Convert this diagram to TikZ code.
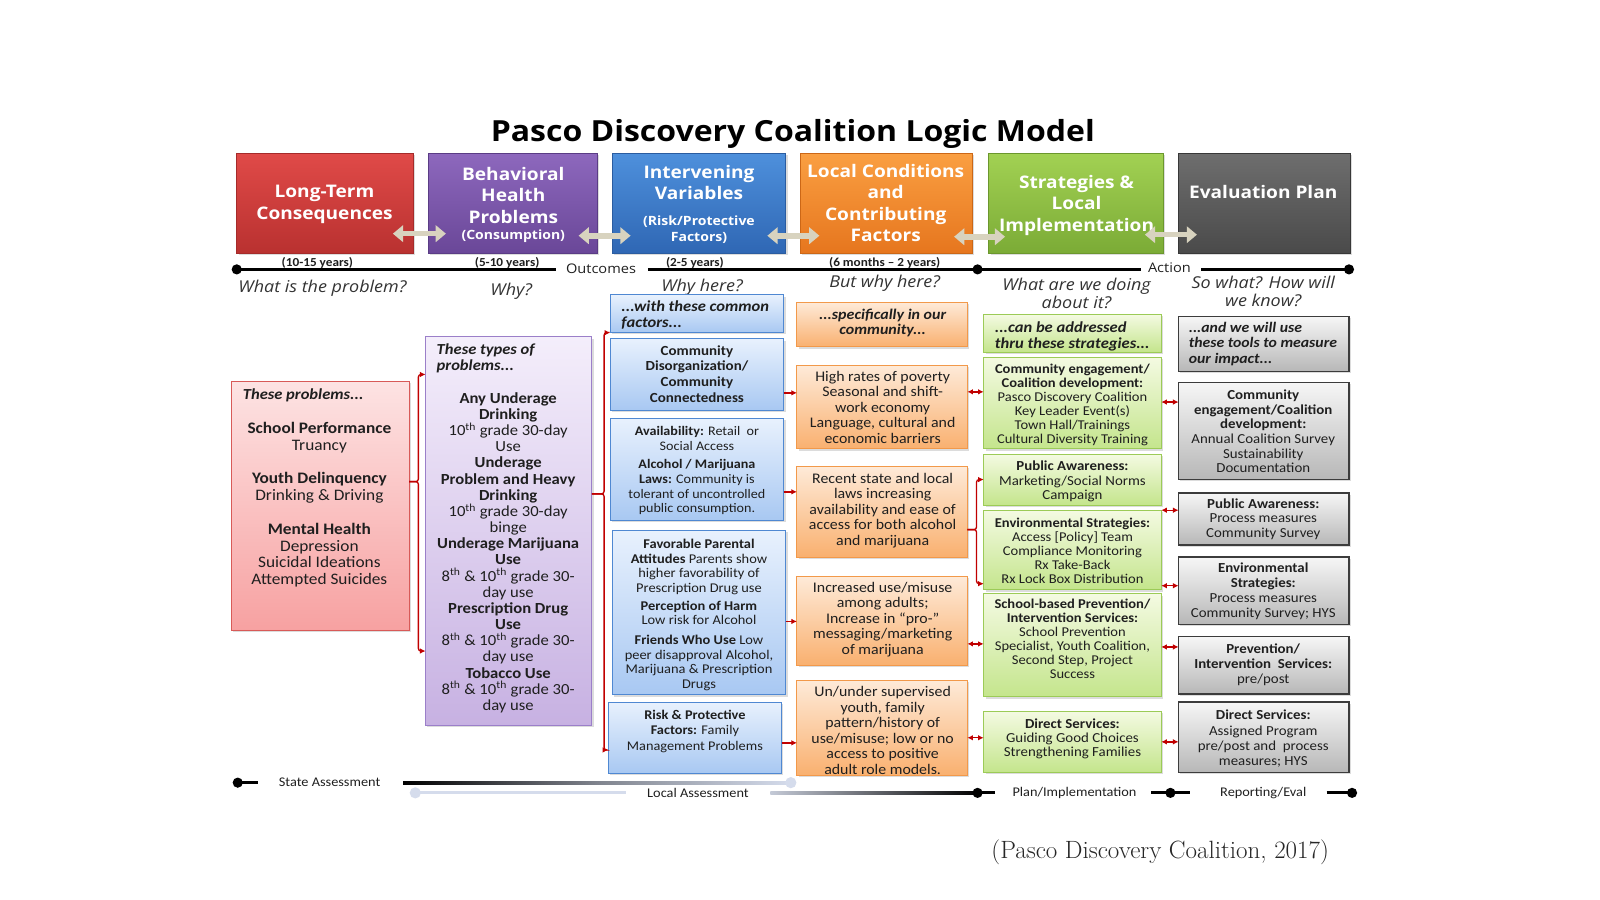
\documentclass[tikz,border=0pt]{standalone}
\usepackage{fontspec}
\setmainfont{Carlito}[FakeStretch=1.08]
\newfontfamily\hf{Open Sans}[FakeStretch=1.1]
\newfontfamily\lmr{Latin Modern Roman}
\usetikzlibrary{fit,shadows,arrows.meta}
\definecolor{rc}{HTML}{C00000}
\definecolor{bg}{HTML}{D8D3BF}
\definecolor{qc}{HTML}{333333}
\definecolor{tc}{HTML}{1F1F1F}
\definecolor{hr1}{HTML}{E04A48}\definecolor{hr2}{HTML}{B93130}\definecolor{hrb}{HTML}{A52B2A}
\definecolor{hp1}{HTML}{8D68BD}\definecolor{hp2}{HTML}{6A4798}\definecolor{hpb}{HTML}{5A3C85}
\definecolor{hb1}{HTML}{4E90DC}\definecolor{hb2}{HTML}{2F67B4}\definecolor{hbb}{HTML}{2A5CA0}
\definecolor{ho1}{HTML}{FA9F42}\definecolor{ho2}{HTML}{E6761E}\definecolor{hob}{HTML}{CC6716}
\definecolor{hg1}{HTML}{A2D153}\definecolor{hg2}{HTML}{7BAB36}\definecolor{hgb}{HTML}{6B972D}
\definecolor{hy1}{HTML}{6E6E6E}\definecolor{hy2}{HTML}{4A4A4A}\definecolor{hyb}{HTML}{383838}
\definecolor{lr1}{HTML}{FDE3E3}\definecolor{lr2}{HTML}{F7A1A1}\definecolor{lrb}{HTML}{D85A58}
\definecolor{lp1}{HTML}{F4EEFB}\definecolor{lp2}{HTML}{C7B1E2}\definecolor{lpb}{HTML}{9B7FC9}
\definecolor{lb1}{HTML}{E8F1FD}\definecolor{lb2}{HTML}{A8C8F2}\definecolor{lbb}{HTML}{4F88D2}
\definecolor{lo1}{HTML}{FEEAD8}\definecolor{lo2}{HTML}{F9B06F}\definecolor{lob}{HTML}{F2994A}
\definecolor{lg1}{HTML}{F4FAE2}\definecolor{lg2}{HTML}{C4E58C}\definecolor{lgb}{HTML}{9CCB57}
\definecolor{ly1}{HTML}{F6F6F6}\definecolor{ly2}{HTML}{B7B7B7}\definecolor{lyb}{HTML}{3C3C3C}
\definecolor{lt}{HTML}{D5DCEC}
\begin{document}
\begin{tikzpicture}[x=1pt,y=1pt,
  every node/.style={inner sep=0pt,outer sep=0pt},
  shad/.style={drop shadow={shadow xshift=1.8pt,shadow yshift=-1.8pt,opacity=0.28}},
  hdr/.style n args={3}{draw=#3,line width=0.8pt,top color=#1,bottom color=#2,shad},
  lbox/.style n args={3}{draw=#3,line width=1pt,top color=#1,bottom color=#2,shad},
  htxt/.style={text=white,align=center,anchor=north,font=\hf\bfseries\fontsize{17}{21}\selectfont},
  hsub/.style={text=white,align=center,anchor=north,font=\hf\bfseries\fontsize{12.5}{16}\selectfont},
  qtxt/.style={text=qc,align=center,font=\hf\itshape\fontsize{16}{17}\selectfont},
  yr/.style={anchor=base,text=tc,font=\bfseries\fontsize{12}{12}\selectfont},
  hd/.style={anchor=north west,align=left,text=tc,font=\bfseries\itshape\fontsize{15}{16}\selectfont},
  bt/.style={anchor=north,align=center,text=tc},
  rcon/.style={draw=rc,line width=1.3pt,rounded corners=2.5pt},
  rtip/.style={-{Latex[length=5.5pt,width=5.5pt]}},
  rdbl/.style={{Latex[length=5.5pt,width=5.5pt]}-{Latex[length=5.5pt,width=5.5pt]}},
  barr/.style={draw=bg,line width=5.5pt,{Triangle[width=16pt,length=10pt]}-{Triangle[width=16pt,length=10pt]}},
  tline/.style={line width=2.2pt},
  dot/.style={circle,fill=black,minimum size=10pt},
  ldot/.style={circle,fill=lt,minimum size=11pt},
  lbl/.style={text=tc,font=\fontsize{13}{15}\selectfont},
  tlbl/.style={text=tc,font=\hf\fontsize{13}{16}\selectfont}
]
\useasboundingbox (0,0) rectangle (1568,-882);

% title
\node[font=\hf\bfseries\fontsize{28.5}{32}\selectfont,text=black] (title) at (777,-131) {Pasco Discovery Coalition Logic Model};

% header boxes
\node[hdr={hr1}{hr2}{hrb},fit={(232,-150)(405,-248)}] (h1) {};
\node[hdr={hp1}{hp2}{hpb},fit={(420,-150)(585,-248)}] (h2) {};
\node[hdr={hb1}{hb2}{hbb},fit={(600,-150)(770,-248)}] (h3) {};
\node[hdr={ho1}{ho2}{hob},fit={(784,-150)(953,-248)}] (h4) {};
\node[hdr={hg1}{hg2}{hgb},fit={(969,-150)(1140,-248)}] (h5) {};
\node[hdr={hy1}{hy2}{hyb},fit={(1155,-150)(1323,-248)}] (h6) {};

\node[htxt] (h1t) at (318,-181.7) {Long-Term\\Consequences};
\node[htxt] (h2t) at (503,-163.7) {Behavioral\\Health\\Problems};
\node[hsub] (h2s) at (503,-225.5) {(Consumption)};
\node[htxt] (h3t) at (685,-161.7) {Intervening\\Variables};
\node[hsub] (h3s) at (685,-211.5) {(Risk/Protective\\Factors)};
\node[htxt] (h4t) at (868,-160.7) {Local Conditions\\and\\Contributing\\Factors};
\node[htxt] (h5t) at (1055,-171.7) {Strategies \&\\Local\\Implementation};
\node[htxt] (h6t) at (1238,-181.7) {Evaluation Plan};

% beige double arrows
\coordinate (a1s) at (385,-229); \coordinate (a1e) at (437,-229);
\coordinate (a2s) at (567,-231); \coordinate (a2e) at (618,-231);
\coordinate (a3s) at (752,-231); \coordinate (a3e) at (803,-231);
\coordinate (a4s) at (935,-232); \coordinate (a4e) at (985,-232);
\coordinate (a5s) at (1122,-230); \coordinate (a5e) at (1173,-230);
\draw[barr] (a1s) -- (a1e);
\draw[barr] (a2s) -- (a2e);
\draw[barr] (a3s) -- (a3e);
\draw[barr] (a4s) -- (a4e);
\draw[barr] (a5s) -- (a5e);

% top timeline
\node[dot] (td1) at (232,-264) {};
\node[dot] (td2) at (958,-264) {};
\node[dot] (td3) at (1322,-264) {};
\node[tlbl] (outc) at (589,-263) {Outcomes};
\node[tlbl] (actn) at (1146,-262) {Action};
\coordinate (tl1) at (545,-264); \coordinate (tl2) at (635,-264);
\coordinate (tl3) at (1118,-264); \coordinate (tl4) at (1177,-264);
\draw[tline] (td1.center) -- (tl1);
\draw[tline] (tl2) -- (td2.center) -- (tl3);
\draw[tline] (tl4) -- (td3.center);
\node[yr] (y1) at (311,-261.5) {(10-15 years)};
\node[yr] (y2) at (497,-261.5) {(5-10 years)};
\node[yr] (y3) at (681,-261.5) {(2-5 years)};
\node[yr] (y4) at (867,-261.5) {(6 months – 2 years)};

% questions
\node[qtxt] (q1) at (316,-282) {What is the problem?};
\node[qtxt] (q2) at (501,-285) {Why?};
\node[qtxt] (q3) at (688,-282) {Why here?};
\node[qtxt] (q4) at (867,-278) {But why here?};
\node[qtxt,anchor=north] (q5) at (1055,-273) {What are we doing\\about it?};
\node[qtxt,anchor=north] (q6) at (1238,-271) {So what? How will\\we know?};

% column 1
\node[lbox={lr1}{lr2}{lrb},fit={(227,-374)(401,-618)}] (c1) {};
\node[hd] (c1h) at (238,-380.8) {These problems...};
\node[bt,font=\fontsize{15.7}{16.5}\selectfont] (c1t) at (313,-413.5) {\textbf{School Performance}\\Truancy\\[16.5pt]\textbf{Youth Delinquency}\\Drinking \& Driving\\[16.5pt]\textbf{Mental Health}\\Depression\\Suicidal Ideations\\Attempted Suicides};

% column 2
\node[lbox={lp1}{lp2}{lpb},fit={(417,-330)(580,-711)}] (c2) {};
\node[hd] (c2h) at (428,-336.8) {These types of\\problems...};
\node[bt,font=\fontsize{15.1}{15.85}\selectfont] (c2t) at (498,-384.5) {\textbf{Any Underage}\\\textbf{Drinking}\\10\textsuperscript{th} grade 30-day\\Use\\\textbf{Underage}\\\textbf{Problem and Heavy}\\\textbf{Drinking}\\10\textsuperscript{th} grade 30-day\\binge\\\textbf{Underage Marijuana}\\\textbf{Use}\\8\textsuperscript{th} \& 10\textsuperscript{th} grade 30-\\day use\\\textbf{Prescription Drug}\\\textbf{Use}\\8\textsuperscript{th} \& 10\textsuperscript{th} grade 30-\\day use\\\textbf{Tobacco Use}\\8\textsuperscript{th} \& 10\textsuperscript{th} grade 30-\\day use};

% column 3 (blue)
\node[lbox={lb1}{lb2}{lbb},fit={(598,-289)(768,-326)}] (b0) {};
\node[lbox={lb1}{lb2}{lbb},fit={(598,-332)(768,-402)}] (b1) {};
\node[lbox={lb1}{lb2}{lbb},fit={(598,-410)(768,-510)}] (b2) {};
\node[lbox={lb1}{lb2}{lbb},fit={(600,-520)(770,-681)}] (b3) {};
\node[lbox={lb1}{lb2}{lbb},fit={(596,-688)(766,-758)}] (b4) {};
\node[hd] (b0t) at (609,-294.8) {...with these common\\factors...};
\node[bt,font=\bfseries\fontsize{13.6}{15.3}\selectfont] (b1t) at (683,-338.6) {Community\\Disorganization/\\Community\\Connectedness};
\node[bt,font=\fontsize{12.8}{14.3}\selectfont] (b2t) at (683,-418.2) {\textbf{Availability:} Retail\ \ or\\Social Access\\[3.7pt]\textbf{Alcohol / Marijuana}\\\textbf{Laws:} Community is\\tolerant of uncontrolled\\public consumption.};
\node[bt,font=\fontsize{13.1}{14.5}\selectfont] (b3t) at (685,-528.2) {\textbf{Favorable Parental}\\\textbf{Attitudes} Parents show\\higher favorability of\\Prescription Drug use\\[2.5pt]\textbf{Perception of Harm}\\Low risk for Alcohol\\[4.5pt]\textbf{Friends Who Use} Low\\peer disapproval Alcohol,\\Marijuana \& Prescription\\Drugs};
\node[bt,font=\fontsize{13}{15}\selectfont] (b4t) at (681,-696) {\textbf{Risk \& Protective}\\\textbf{Factors:} Family\\Management Problems};

% column 4 (orange)
\node[lbox={lo1}{lo2}{lob},fit={(781,-296)(948,-340)}] (o0) {};
\node[lbox={lo1}{lo2}{lob},fit={(781,-358)(948,-440)}] (o1) {};
\node[lbox={lo1}{lo2}{lob},fit={(781,-457)(948,-546)}] (o2) {};
\node[lbox={lo1}{lo2}{lob},fit={(781,-565)(948,-652)}] (o3) {};
\node[lbox={lo1}{lo2}{lob},fit={(781,-667)(948,-760)}] (o4) {};
\node[bt,font=\bfseries\itshape\fontsize{14.5}{15}\selectfont] (o0t) at (865,-302.8) {...specifically in our\\community...};
\node[bt,font=\fontsize{14.4}{15.2}\selectfont] (o1t) at (865,-363.6) {High rates of poverty\\Seasonal and shift-\\work economy\\Language, cultural and\\economic barriers};
\node[bt,font=\fontsize{14.4}{15.2}\selectfont] (o2t) at (865,-463.6) {Recent state and local\\laws increasing\\availability and ease of\\access for both alcohol\\and marijuana};
\node[bt,font=\fontsize{14.4}{15.2}\selectfont] (o3t) at (865,-570.6) {Increased use/misuse\\among adults;\\Increase in “pro-”\\messaging/marketing\\of marijuana};
\node[bt,font=\fontsize{14.4}{15.2}\selectfont] (o4t) at (865,-672.6) {Un/under supervised\\youth, family\\pattern/history of\\use/misuse; low or no\\access to positive\\adult role models.};

% column 5 (green)
\node[lbox={lg1}{lg2}{lgb},fit={(964,-308)(1138,-345)}] (g0) {};
\node[lbox={lg1}{lg2}{lgb},fit={(964,-350)(1138,-440)}] (g1) {};
\node[lbox={lg1}{lg2}{lgb},fit={(964,-445)(1138,-495)}] (g2) {};
\node[lbox={lg1}{lg2}{lgb},fit={(964,-500)(1138,-578)}] (g3) {};
\node[lbox={lg1}{lg2}{lgb},fit={(964,-582)(1138,-683)}] (g4) {};
\node[lbox={lg1}{lg2}{lgb},fit={(964,-697)(1138,-757)}] (g5) {};
\node[hd,font=\bfseries\itshape\fontsize{15}{15}\selectfont] (g0t) at (975,-315.8) {...can be addressed\\thru these strategies...};
\node[bt,font=\fontsize{13.2}{13.6}\selectfont] (g1t) at (1051,-357.2) {\textbf{Community engagement/}\\\textbf{Coalition development:}\\Pasco Discovery Coalition\\Key Leader Event(s)\\Town Hall/Trainings\\Cultural Diversity Training};
\node[bt,font=\fontsize{13.5}{14}\selectfont] (g2t) at (1051,-452) {\textbf{Public Awareness:}\\Marketing/Social Norms\\Campaign};
\node[bt,font=\fontsize{13.2}{13.75}\selectfont] (g3t) at (1051,-507.2) {\textbf{Environmental Strategies:}\\Access [Policy] Team\\Compliance Monitoring\\Rx Take-Back\\Rx Lock Box Distribution};
\node[bt,font=\fontsize{13.2}{13.6}\selectfont] (g4t) at (1051,-587.2) {\textbf{School-based Prevention/}\\\textbf{Intervention Services:}\\School Prevention\\Specialist, Youth Coalition,\\Second Step, Project\\Success};
\node[bt,font=\fontsize{13.5}{14}\selectfont] (g5t) at (1051,-704) {\textbf{Direct Services:}\\Guiding Good Choices\\Strengthening Families};

% column 6 (gray)
\node[lbox={ly1}{ly2}{lyb},line width=1.4pt,fit={(1155,-310)(1322,-364)}] (e0) {};
\node[lbox={ly1}{ly2}{lyb},line width=1.4pt,fit={(1155,-375)(1322,-470)}] (e1) {};
\node[lbox={ly1}{ly2}{lyb},line width=1.4pt,fit={(1155,-483)(1322,-534)}] (e2) {};
\node[lbox={ly1}{ly2}{lyb},line width=1.4pt,fit={(1155,-546)(1322,-612)}] (e3) {};
\node[lbox={ly1}{ly2}{lyb},line width=1.4pt,fit={(1155,-624)(1322,-680)}] (e4) {};
\node[lbox={ly1}{ly2}{lyb},line width=1.4pt,fit={(1155,-688)(1322,-757)}] (e5) {};
\node[hd,font=\bfseries\itshape\fontsize{14.3}{15}\selectfont] (e0t) at (1165,-315.8) {...and we will use\\these tools to measure\\our impact...};
\node[bt,font=\fontsize{13.5}{14.4}\selectfont] (e1t) at (1238,-382) {\textbf{Community}\\\textbf{engagement/Coalition}\\\textbf{development:}\\Annual Coalition Survey\\Sustainability\\Documentation};
\node[bt,font=\fontsize{13.5}{14}\selectfont] (e2t) at (1238,-489) {\textbf{Public Awareness:}\\Process measures\\Community Survey};
\node[bt,font=\fontsize{13.5}{14.5}\selectfont] (e3t) at (1238,-552) {\textbf{Environmental}\\\textbf{Strategies:}\\Process measures\\Community Survey; HYS};
\node[bt,font=\fontsize{13.5}{14.5}\selectfont] (e4t) at (1238,-631) {\textbf{Prevention/}\\\textbf{Intervention\ \ Services:}\\pre/post};
\node[bt,font=\fontsize{13.5}{15}\selectfont] (e5t) at (1238,-696) {\textbf{Direct Services:}\\Assigned Program\\pre/post and\ \ process\\measures; HYS};

% red connectors: bracket col1 -> col2
\draw[rcon,rtip] (c1.east |- 0,-472) -- (410,-472) |- (c2.west |- 0,-367);
\draw[rcon,rtip] (c1.east |- 0,-472) -- (410,-472) |- (c2.west |- 0,-638);
% bracket col2 -> col3
\draw[rcon,rtip] (c2.east |- 0,-484) -- (592,-484) |- (b0.south west);
\draw[rcon,rtip] (c2.east |- 0,-484) -- (592,-484) |- (b4.west |- 0,-735);
% blue -> orange
\draw[rcon,rtip] (b1.east |- 0,-385) -- (o1.west |- 0,-385);
\draw[rcon,rtip] (b2.east |- 0,-482) -- (o2.west |- 0,-482);
\draw[rcon,rtip] (b3.east |- 0,-609) -- (o3.west |- 0,-609);
\draw[rcon,rtip] (b4.east |- 0,-728) -- (o4.west |- 0,-728);
% orange <-> green
\draw[rcon,rdbl] (o1.east |- 0,-384) -- (g1.west |- 0,-384);
\draw[rcon,rtip] (o2.east |- 0,-519) -- (957,-519) |- (g2.west |- 0,-470);
\draw[rcon,rtip] (o2.east |- 0,-519) -- (957,-519) |- (g3.west |- 0,-572);
\draw[rcon,rdbl] (o3.east |- 0,-631) -- (g4.west |- 0,-631);
\draw[rcon,rdbl] (o4.east |- 0,-723) -- (g5.west |- 0,-723);
% green <-> gray
\draw[rcon,rdbl] (g1.east |- 0,-394) -- (e1.west |- 0,-394);
\draw[rcon,rdbl] (g3.north east) -- (e2.west |- g3.north east);
\draw[rcon,rdbl] (g3.east |- 0,-574) -- (e3.west |- 0,-574);
\draw[rcon,rdbl] (g4.east |- 0,-634) -- (e4.west |- 0,-634);
\draw[rcon,rdbl] (g5.east |- 0,-727) -- (e5.west |- 0,-727);

% bottom timeline
\node[dot] (sd1) at (233,-767) {};
\coordinate (sd1e) at (253,-767);
\draw[line width=3pt] (sd1.center) -- (sd1e);
\node[lbl] (sa) at (323,-767) {State Assessment};
\shade[left color=black,right color=lt,middle color=lt!60!black] (395,-765.5) rectangle (775,-768.5);
\node[ldot] (sd2) at (775,-767) {};
\node[ldot] (ld1) at (407,-777) {};
\coordinate (ll1) at (613,-777);
\draw[line width=3pt,draw=lt] (ld1.center) -- (ll1);
\node[lbl] (la) at (684,-777) {Local Assessment};
\shade[left color=lt!80!gray,right color=black] (755,-775.5) rectangle (958,-778.5);
\node[dot] (pd) at (958,-777) {};
\coordinate (pde) at (975,-777);
\draw[line width=3pt] (pd.center) -- (pde);
\node[lbl] (pi) at (1053,-777) {Plan/Implementation};
\node[dot] (rd) at (1147,-777) {};
\coordinate (rds) at (1128,-777); \coordinate (rde) at (1166,-777);
\draw[line width=3pt] (rds) -- (rde);
\node[lbl] (re) at (1238,-777) {Reporting/Eval};
\node[dot] (ed) at (1325,-777) {};
\coordinate (eds) at (1300,-777);
\draw[line width=3pt] (eds) -- (ed.center);

% citation
\node[font=\lmr\fontsize{24.5}{27}\selectfont,text=black!85] (cite) at (1137,-835) {(Pasco Discovery Coalition, 2017)};
\end{tikzpicture}
\end{document}
